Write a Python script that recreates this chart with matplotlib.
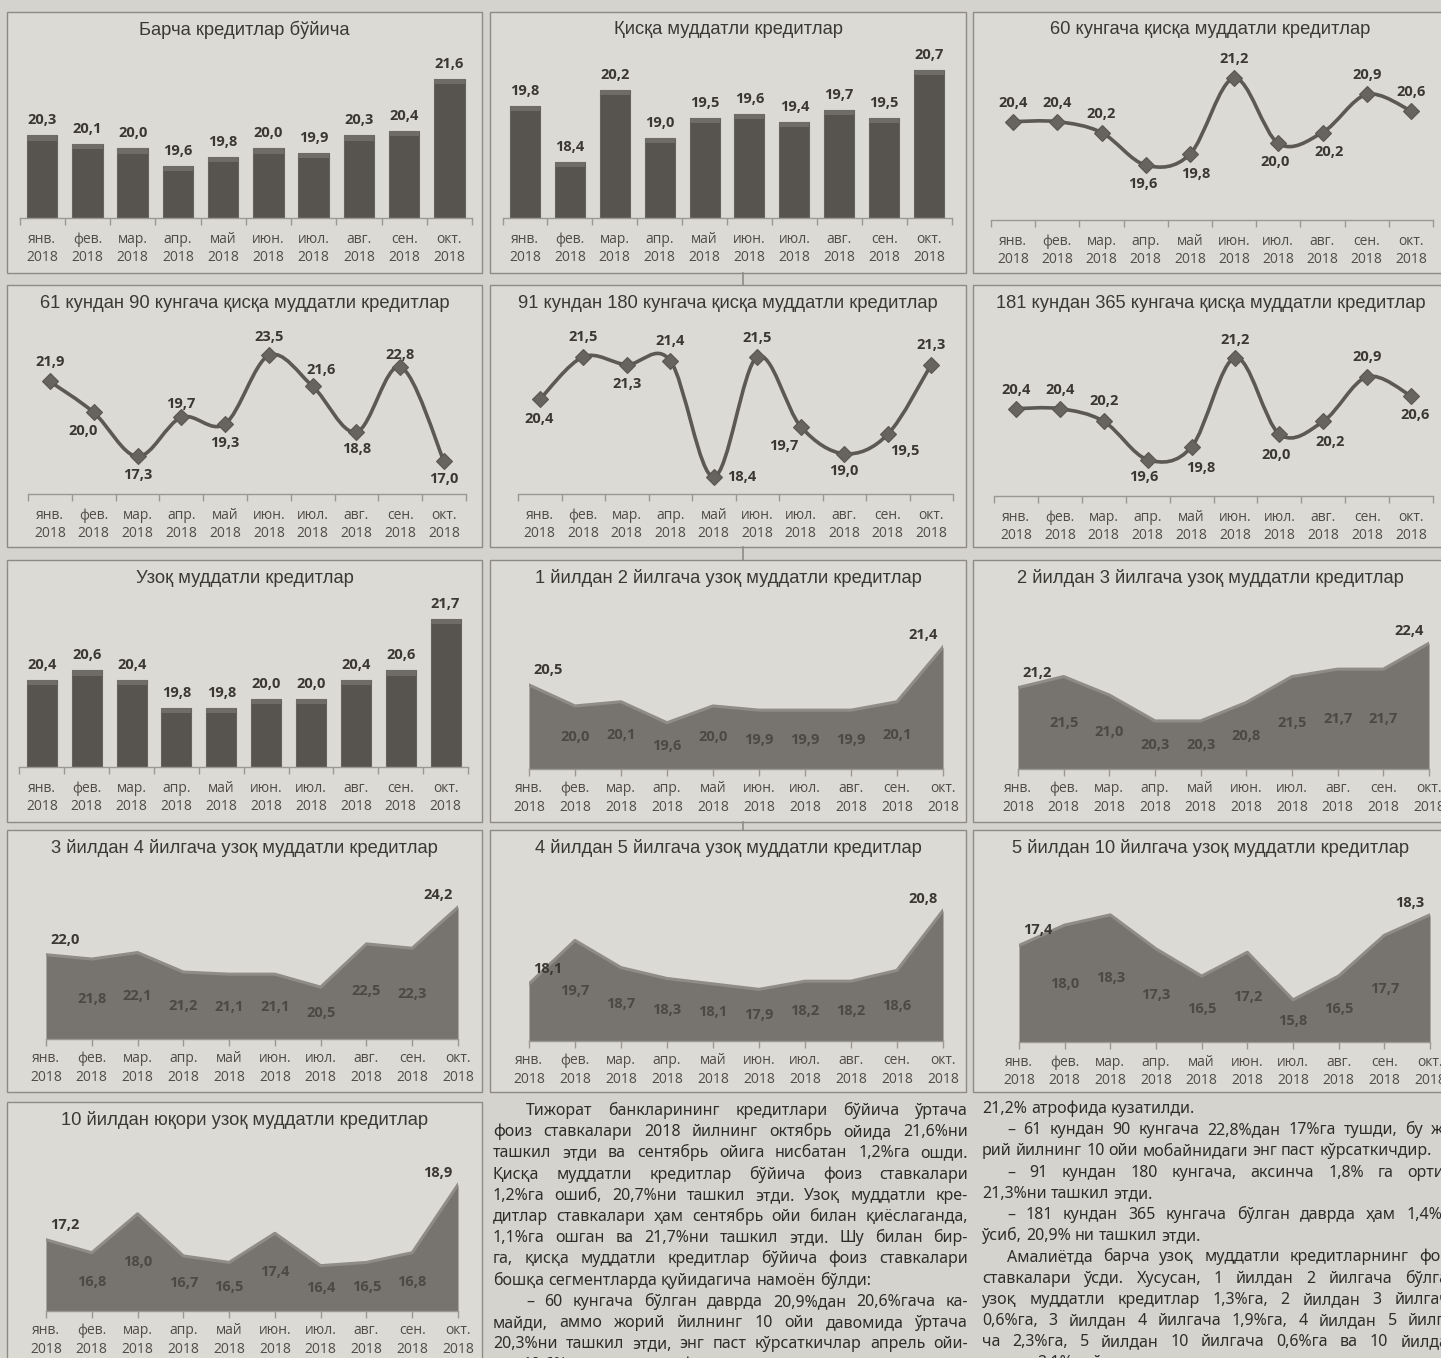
import matplotlib
matplotlib.use('Agg')
import matplotlib.pyplot as plt
from matplotlib.path import Path
from matplotlib.patches import PathPatch, Rectangle
from matplotlib.lines import Line2D
import numpy as np

# ---------------- data ----------------
months = ['янв.', 'фев.', 'мар.', 'апр.', 'май', 'июн.', 'июл.', 'авг.', 'сен.', 'окт.']
year = '2018'
tick_labels = [f'{m}\n{year}' for m in months]

all_loans = [20.3, 20.1, 20.0, 19.6, 19.8, 20.0, 19.9, 20.3, 20.4, 21.6]
short_term = [19.8, 18.4, 20.2, 19.0, 19.5, 19.6, 19.4, 19.7, 19.5, 20.7]
upto_60 = [20.4, 20.4, 20.2, 19.6, 19.8, 21.2, 20.0, 20.2, 20.9, 20.6]
d61_90 = [21.9, 20.0, 17.3, 19.7, 19.3, 23.5, 21.6, 18.8, 22.8, 17.0]
d91_180 = [20.4, 21.5, 21.3, 21.4, 18.4, 21.5, 19.7, 19.0, 19.5, 21.3]
d181_365 = [20.4, 20.4, 20.2, 19.6, 19.8, 21.2, 20.0, 20.2, 20.9, 20.6]
long_term = [20.4, 20.6, 20.4, 19.8, 19.8, 20.0, 20.0, 20.4, 20.6, 21.7]
y1_2 = [20.5, 20.0, 20.1, 19.6, 20.0, 19.9, 19.9, 19.9, 20.1, 21.4]
y2_3 = [21.2, 21.5, 21.0, 20.3, 20.3, 20.8, 21.5, 21.7, 21.7, 22.4]
y3_4 = [22.0, 21.8, 22.1, 21.2, 21.1, 21.1, 20.5, 22.5, 22.3, 24.2]
y4_5 = [18.1, 19.7, 18.7, 18.3, 18.1, 17.9, 18.2, 18.2, 18.6, 20.8]
y5_10 = [17.4, 18.0, 18.3, 17.3, 16.5, 17.2, 15.8, 16.5, 17.7, 18.3]
y10_plus = [17.2, 16.8, 18.0, 16.7, 16.5, 17.4, 16.4, 16.5, 16.8, 18.9]

titles = {
    'all': 'Барча кредитлар бўйича',
    'short': 'Қисқа муддатли кредитлар',
    'd60': '60 кунгача қисқа муддатли кредитлар',
    'd61': '61 кундан 90 кунгача қисқа муддатли кредитлар',
    'd91': '91 кундан 180 кунгача қисқа муддатли кредитлар',
    'd181': '181 кундан 365 кунгача қисқа муддатли кредитлар',
    'long': 'Узоқ муддатли кредитлар',
    'y12': '1 йилдан 2 йилгача узоқ муддатли кредитлар',
    'y23': '2 йилдан 3 йилгача узоқ муддатли кредитлар',
    'y34': '3 йилдан 4 йилгача узоқ муддатли кредитлар',
    'y45': '4 йилдан 5 йилгача узоқ муддатли кредитлар',
    'y510': '5 йилдан 10 йилгача узоқ муддатли кредитлар',
    'y10': '10 йилдан юқори узоқ муддатли кредитлар',
}

col_mid = [
    (True, 'Тижорат банкларининг кредитлари бўйича ўртача', True),
    (False, 'фоиз ставкалари 2018 йилнинг октябрь ойида 21,6%ни', True),
    (False, 'ташкил этди ва сентябрь ойига нисбатан 1,2%га ошди.', True),
    (False, 'Қисқа муддатли кредитлар бўйича фоиз ставкалари', True),
    (False, '1,2%га ошиб, 20,7%ни ташкил этди. Узоқ муддатли кре-', True),
    (False, 'дитлар ставкалари ҳам сентябрь ойи билан қиёслаганда,', True),
    (False, '1,1%га ошган ва 21,7%ни ташкил этди. Шу билан бир-', True),
    (False, 'га, қисқа муддатли кредитлар бўйича фоиз ставкалари', True),
    (False, 'бошқа сегментларда қуйидагича намоён бўлди:', False),
    (True, '– 60 кунгача бўлган даврда 20,9%дан 20,6%гача ка-', True),
    (False, 'майди, аммо жорий йилнинг 10 ойи давомида ўртача', True),
    (False, '20,3%ни ташкил этди, энг паст кўрсаткичлар апрель ойи-', True),
    (False, 'да 19,6%, энг юқори фоиз ставкалари эса июнь ойида', True),
]
col_right = [
    (False, '21,2% атрофида кузатилди.', False),
    (True, '– 61 кундан 90 кунгача 22,8%дан 17%га тушди, бу жо-', True),
    (False, 'рий йилнинг 10 ойи мобайнидаги энг паст кўрсаткичдир.', False),
    (True, '– 91 кундан 180 кунгача, аксинча 1,8% га ортиб,', True),
    (False, '21,3%ни ташкил этди.', False),
    (True, '– 181 кундан 365 кунгача бўлган даврда ҳам 1,4%га', True),
    (False, 'ўсиб, 20,9% ни ташкил этди.', False),
    (True, 'Амалиётда барча узоқ муддатли кредитларнинг фоиз', True),
    (False, 'ставкалари ўсди. Хусусан, 1 йилдан 2 йилгача бўлган', True),
    (False, 'узоқ муддатли кредитлар 1,3%га, 2 йилдан 3 йилгача', True),
    (False, '0,6%га, 3 йилдан 4 йилгача 1,9%га, 4 йилдан 5 йилга-', True),
    (False, 'ча 2,3%га, 5 йилдан 10 йилгача 0,6%га ва 10 йилдан', True),
    (False, 'юқори 2,1%га ўсди.', False),
]

# ---------------- style ----------------
W, H = 1441, 1358
BG = '#d5d3ce'
PANEL = '#dcdad5'
EDGE = '#8e8b86'
TITLE_C = '#3b3936'
TICK_C = '#4f4c49'
LBL_C = '#3a3735'
IN_LBL_C = '#4c4845'
BAR_C = '#57534f'
BAR_TOP = '#6f6b67'
LINE_C = '#5c5855'
AREA_C = '#77736f'
AREA_TOP = '#8f8b86'
AXIS_C = '#9b9893'
BODY_C = '#2f2d2b'
TITLE_F = ['Liberation Sans', 'DejaVu Sans']
TICK_F = ['Open Sans', 'DejaVu Sans']
BODY_F = ['Noto Sans', 'DejaVu Sans']
TICK_FS = 10
LBL_FS = 10.5

fig = plt.figure(figsize=(W / 100, H / 100), dpi=100, facecolor=BG)


def fx(x):
    return x / W


def fy(y):
    return 1 - y / H


def panel(x0, y0, x1, y1, title):
    fig.add_artist(Rectangle((fx(x0), fy(y1)), (x1 - x0) / W, (y1 - y0) / H,
                             transform=fig.transFigure, facecolor=PANEL,
                             edgecolor=EDGE, lw=1.0, zorder=-5))
    fig.text(fx((x0 + x1) / 2), fy(y0 + 18), title, ha='center', va='center',
             fontsize=13.2, color=TITLE_C, family=TITLE_F)


def make_ax(x0, y0, x1, y1, ylim, xlim):
    ax = fig.add_axes([fx(x0), fy(y1), (x1 - x0) / W, (y1 - y0) / H])
    ax.set_facecolor('none')
    ax.set_ylim(*ylim)
    ax.set_xlim(*xlim)
    for s in ['top', 'right', 'left']:
        ax.spines[s].set_visible(False)
    ax.spines['bottom'].set_color(AXIS_C)
    ax.spines['bottom'].set_linewidth(1.0)
    ax.set_yticks([])
    ax.set_xticks(range(10))
    ax.set_xticklabels(tick_labels, fontsize=TICK_FS, color=TICK_C, family=TICK_F,
                       linespacing=1.3)
    between = xlim[0] < 0
    if between:
        ax.set_xticks(np.arange(-0.5, 10, 1), minor=True)
        ax.tick_params(axis='x', which='major', length=0, pad=10)
        ax.tick_params(axis='x', which='minor', length=5, color=AXIS_C, width=1)
    else:
        ax.tick_params(axis='x', which='major', length=5, color=AXIS_C, width=1, pad=4)
    return ax


def fmt(v):
    return f'{v:.1f}'.replace('.', ',')


def bar_chart(rect, ylim, vals):
    ax = make_ax(*rect, ylim=ylim, xlim=(-0.5, 9.5))
    x = np.arange(len(vals))
    v = np.array(vals)
    cap = (ylim[1] - ylim[0]) * 0.03
    ax.bar(x, v - ylim[0], bottom=ylim[0], width=0.67, color=BAR_C,
           edgecolor='#66625e', lw=0.8, zorder=2)
    ax.bar(x, cap, bottom=v - cap, width=0.67, color=BAR_TOP, lw=0, zorder=3)
    for i, val in enumerate(vals):
        ax.annotate(fmt(val), (i, val), xytext=(0, 15), textcoords='offset pixels',
                    ha='center', va='center', fontsize=LBL_FS, fontweight='bold',
                    color=LBL_C, family=TICK_F, annotation_clip=False)
    return ax


def smooth_path(xs, ys):
    n = len(xs)
    verts = [(xs[0], ys[0])]
    codes = [Path.MOVETO]
    for i in range(n - 1):
        p0 = (xs[i - 1], ys[i - 1]) if i > 0 else (xs[i], ys[i])
        p1 = (xs[i], ys[i])
        p2 = (xs[i + 1], ys[i + 1])
        p3 = (xs[i + 2], ys[i + 2]) if i + 2 < n else p2
        c1 = (p1[0] + (p2[0] - p0[0]) / 6, p1[1] + (p2[1] - p0[1]) / 6)
        c2 = (p2[0] - (p3[0] - p1[0]) / 6, p2[1] - (p3[1] - p1[1]) / 6)
        verts += [c1, c2, p2]
        codes += [Path.CURVE4] * 3
    return Path(verts, codes)


def line_chart(rect, ylim, vals, offsets):
    ax = make_ax(*rect, ylim=ylim, xlim=(-0.5, 9.5))
    x = np.arange(len(vals))
    ax.add_patch(PathPatch(smooth_path(x, vals), fill=False, edgecolor=LINE_C,
                           lw=2.6, zorder=2, capstyle='round'))
    ax.plot(x, vals, ls='none', marker='D', ms=8, color='#67635f',
            mec='#5a5653', mew=0.8, zorder=3)
    for i, val in enumerate(vals):
        dx, dy = offsets[i]
        ax.annotate(fmt(val), (i, val), xytext=(dx, dy), textcoords='offset pixels',
                    ha='center', va='center', fontsize=LBL_FS, fontweight='bold',
                    color=LBL_C, family=TICK_F, annotation_clip=False)
    return ax


def area_chart(rect, ylim, vals):
    ax = make_ax(*rect, ylim=ylim, xlim=(0, 9))
    x = np.arange(len(vals))
    ax.fill_between(x, vals, ylim[0], color=AREA_C, lw=0, zorder=2)
    ax.plot(x, vals, color=AREA_TOP, lw=2.2, zorder=3, solid_joinstyle='round')
    n = len(vals)
    for i, val in enumerate(vals):
        if i == 0:
            ax.annotate(fmt(val), (i, val), xytext=(19, 15), textcoords='offset pixels',
                        ha='center', va='center', fontsize=LBL_FS, fontweight='bold',
                        color=LBL_C, family=TICK_F, annotation_clip=False)
        elif i == n - 1:
            ax.annotate(fmt(val), (i, val), xytext=(-20, 12), textcoords='offset pixels',
                        ha='center', va='center', fontsize=LBL_FS, fontweight='bold',
                        color=LBL_C, family=TICK_F, annotation_clip=False)
        else:
            ax.text(i, (val + ylim[0]) / 2, fmt(val), ha='center', va='center',
                    fontsize=LBL_FS, fontweight='bold', color=IN_LBL_C, family=TICK_F,
                    zorder=4)
    return ax


# ---------------- panels ----------------
C1, C2, C3 = (7, 482), (490, 966), (973, 1448)
R1, R2, R3, R4, R5 = (12, 273), (285, 547), (560, 822), (830, 1092), (1102, 1370)

panel(C1[0], R1[0], C1[1], R1[1], titles['all'])
panel(C2[0], R1[0], C2[1], R1[1], titles['short'])
panel(C3[0], R1[0], C3[1], R1[1], titles['d60'])
panel(C1[0], R2[0], C1[1], R2[1], titles['d61'])
panel(C2[0], R2[0], C2[1], R2[1], titles['d91'])
panel(C3[0], R2[0], C3[1], R2[1], titles['d181'])
panel(C1[0], R3[0], C1[1], R3[1], titles['long'])
panel(C2[0], R3[0], C2[1], R3[1], titles['y12'])
panel(C3[0], R3[0], C3[1], R3[1], titles['y23'])
panel(C1[0], R4[0], C1[1], R4[1], titles['y34'])
panel(C2[0], R4[0], C2[1], R4[1], titles['y45'])
panel(C3[0], R4[0], C3[1], R4[1], titles['y510'])
panel(C1[0], R5[0], C1[1], R5[1], titles['y10'])

# connectors between middle-column panels
for (ya, yb) in [(273, 285), (547, 560), (822, 830)]:
    fig.add_artist(Line2D([fx(743), fx(743)], [fy(ya), fy(yb)],
                          transform=fig.transFigure, color=EDGE, lw=1.2))

bar_chart((19.5, 45, 472, 218), (18.4, 22.38), all_loans)
bar_chart((502.5, 45, 951.5, 218), (17.0, 21.33), short_term)
line_chart((991, 45, 1433, 220), (18.59, 21.81), upto_60,
           [(0, 19), (0, 19), (0, 19), (-3, -19), (6, -20), (0, 19), (-3, -19), (7, -20), (0, 19), (0, 19)])
line_chart((28, 320, 466, 494), (15.0, 25.67), d61_90,
           [(0, 19), (-11, -19), (0, -19), (0, 13), (0, -19), (0, 18), (8, 16), (0, -17), (0, 12), (0, -18)])
line_chart((518, 320, 953, 494), (17.96, 22.45), d91_180,
           [(-1, -20), (0, 20), (0, -19), (0, 20), (28, 0), (0, 19), (-17, -19), (0, -17), (17, -17), (0, 20)])
line_chart((994, 320, 1433, 496), (19.03, 21.79), d181_365,
           [(0, 19), (0, 19), (0, 20), (-4, -17), (9, -21), (0, 18), (-3, -21), (7, -21), (0, 20), (4, -19)])
bar_chart((19.5, 595, 468, 767), (18.54, 22.21), long_term)
area_chart((529, 600, 943, 769), (18.5, 22.52), y1_2)
area_chart((1018, 600, 1429, 769), (19.0, 23.57), y2_3)
area_chart((46, 870, 458, 1039), (18.1, 25.92), y3_4)
area_chart((529, 870, 943, 1041), (16.0, 22.29), y4_5)
area_chart((1019, 870, 1430, 1042), (14.56, 19.62), y5_10)
area_chart((46, 1140, 458, 1311), (15.0, 20.28), y10_plus)

# ---------------- body text (justified) ----------------
BODY_FS = 11.5
LINE_H = 21.2
renderer = fig.canvas.get_renderer()
space_px = 0.26 * BODY_FS * 100 / 72


def draw_column(lines, x0, base0, width, indent):
    for i, (ind, txt, just) in enumerate(lines):
        yb = base0 + i * LINE_H
        xs = x0 + (indent if ind else 0)
        words = txt.split(' ')
        arts, widths = [], []
        for w in words:
            t = fig.text(0, fy(yb), w, fontsize=BODY_FS, family=BODY_F,
                         color=BODY_C, va='baseline', ha='left')
            arts.append(t)
            widths.append(t.get_window_extent(renderer).width)
        avail = x0 + width - xs
        gap = space_px
        if just and len(words) > 1:
            gap = max((avail - sum(widths)) / (len(words) - 1), space_px * 0.6)
        x = xs
        for t, wd in zip(arts, widths):
            t.set_x(fx(x))
            x += wd + gap


draw_column(col_mid, 493, 1115, 475, 33)
draw_column(col_right, 982, 1113, 476, 25)

fig.savefig('out.png', dpi=100, facecolor=BG)
